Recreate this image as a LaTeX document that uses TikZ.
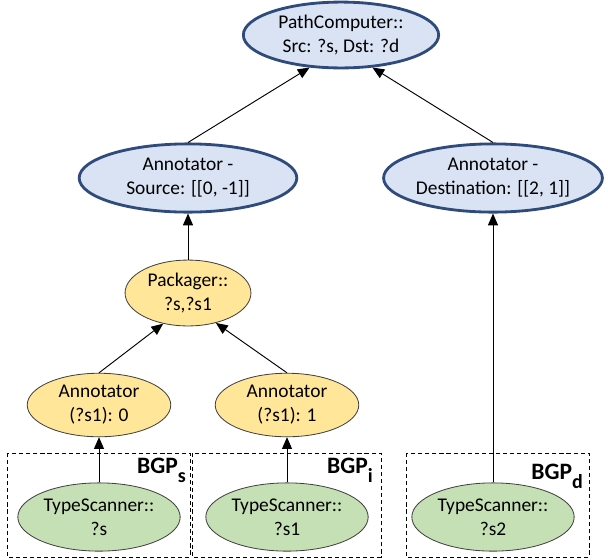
\documentclass[tikz,border=0pt]{standalone}
\usepackage{fontspec}
\setmainfont{Carlito}
\usetikzlibrary{shapes.geometric,arrows.meta}

\definecolor{opblue}{HTML}{DAE3F3}
\definecolor{opblueedge}{HTML}{2F4B7C}
\definecolor{opyellow}{HTML}{FFE699}
\definecolor{opgreen}{HTML}{C5E0B4}

\begin{document}
\begin{tikzpicture}[x=0.85pt,y=-0.85pt,
  op/.style={ellipse, inner sep=0pt, align=center, font=\fontsize{16.5}{20.5}\selectfont},
  blueop/.style={op, draw=opblueedge, line width=2.4pt, fill=opblue},
  yellowop/.style={op, draw=black!75, line width=0.7pt, fill=opyellow},
  greenop/.style={op, draw=black!75, line width=0.7pt, fill=opgreen,
    minimum width=138pt, minimum height=58pt},
  flow/.style={-{Triangle[length=10pt,width=8.5pt]}, line width=0.8pt},
  bgpbox/.style={draw, line width=0.7pt, dash pattern=on 3.5pt off 2.5pt},
  bgplabel/.style={anchor=base east, inner sep=0pt, font=\fontsize{20}{20}\selectfont\bfseries}]
\newcommand{\bgpsub}[1]{\raisebox{-8pt}{\fontsize{17}{17}\selectfont #1}}

\useasboundingbox (0,0) rectangle (608,559);

% --- BGP groups (dashed) ---
\draw[bgpbox] (7,453) rectangle (190,557);
\draw[bgpbox] (192,453) rectangle (381,557);
\draw[bgpbox] (406,453) rectangle (589,557);
\node[bgplabel] (bgps) at (186,473) {BGP\bgpsub{s}};
\node[bgplabel] (bgpi) at (373,473) {BGP\bgpsub{i}};
\node[bgplabel] (bgpd) at (583,479) {BGP\bgpsub{d}};

% --- operators ---
\node[blueop, minimum width=166pt, minimum height=56pt] (pc) at (341,35)
  {PathComputer::\\Src: ?s, Dst: ?d};
\node[blueop, minimum width=185pt, minimum height=58pt] (src) at (188,178)
  {Annotator -\\Source: [[0, -1]]};
\node[blueop, minimum width=186pt, minimum height=58pt] (dst) at (493,178)
  {Annotator -\\Destination: [[2, 1]]};
\node[yellowop, minimum width=107pt, minimum height=56pt] (pk) at (188,293)
  {Packager::\\?s,?s1};
\node[yellowop, minimum width=122pt, minimum height=54pt] (an0) at (99,405)
  {Annotator\\(?s1): 0};
\node[yellowop, minimum width=122pt, minimum height=54pt] (an1) at (287,405)
  {Annotator\\(?s1): 1};
\node[greenop] (ts0) at (99,517) {TypeScanner::\\?s};
\node[greenop] (ts1) at (287,517) {TypeScanner::\\?s1};
\node[greenop] (ts2) at (493,517) {TypeScanner::\\?s2};

% --- data flow ---
\draw[flow] (ts0) -- (an0);
\draw[flow] (ts1) -- (an1);
\draw[flow] (ts2) -- (dst);
\draw[flow] (an0.north) -- (pk.231);
\draw[flow] (an1.north) -- (pk.313);
\draw[flow] (pk) -- (src);
\draw[flow] (src.north) -- (pc.226);
\draw[flow] (dst.north) -- (pc.314);
\end{tikzpicture}
\end{document}
